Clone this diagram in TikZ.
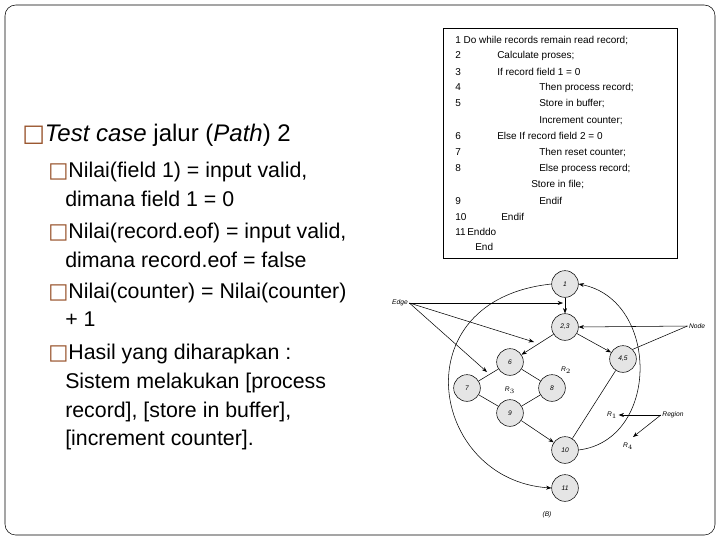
\documentclass[tikz,border=0pt]{standalone}
\usepackage{fontspec}
\setmainfont{Liberation Sans}
\newfontfamily\symfont{DejaVu Sans}
\usetikzlibrary{arrows.meta}
\definecolor{bulletbrown}{RGB}{150,80,40}
\newcommand{\bx}{{\symfont\textcolor{bulletbrown}{□}}}
\begin{document}
\begin{tikzpicture}[x=0.75pt,y=-0.75pt,
    txt/.style={anchor=base west,inner sep=0pt,font=\fontsize{16}{18}\selectfont},
    code/.style={anchor=base west,inner sep=0pt,font=\fontsize{7.5}{8}\selectfont},
    vtx/.style={circle,draw,fill=gray!20,minimum size=20pt,inner sep=0pt,font=\fontsize{5}{6}\selectfont\itshape},
    lbl/.style={inner sep=1pt,font=\fontsize{5}{6}\selectfont\itshape},
    arr/.style={-{Stealth[length=4pt,width=3pt]},thin}]
    \useasboundingbox (0,0) rectangle (720,540);
    \draw[rounded corners=8] (5,5) rectangle (715,535);

    % left text
    \node[txt,font=\fontsize{18}{20}\selectfont] (title) at (22,141) {\bx\textit{Test case} jalur (\textit{Path}) 2};
    \node[txt] (l1) at (48,177) {\bx Nilai(field 1) = input valid,};
    \node[txt] (l2) at (65,206) {dimana field 1 = 0};
    \node[txt] (l3) at (48,238) {\bx Nilai(record.eof) = input valid,};
    \node[txt] (l4) at (65,267) {dimana record.eof = false};
    \node[txt] (l5) at (48,298) {\bx Nilai(counter) = Nilai(counter)};
    \node[txt] (l6) at (65,326) {+ 1};
    \node[txt] (l7) at (48,359) {\bx Hasil yang diharapkan :};
    \node[txt] (l8) at (65,388) {Sistem melakukan [process};
    \node[txt] (l9) at (65,417) {record], [store in buffer],};
    \node[txt] (l10) at (65,445) {[increment counter].};

    % code box
    \draw (443,28) rectangle (677,258);
    \node[code] (c1) at (455,43) {1 Do while records remain read record;};
    \node[code] at (455,58) {2}; \node[code] at (497,58) {Calculate proses;};
    \node[code] at (455,75) {3}; \node[code] at (497,75) {If record field 1 = 0};
    \node[code] at (455,90) {4}; \node[code] at (539,90) {Then process record;};
    \node[code] at (455,106) {5}; \node[code] at (539,106) {Store in buffer;};
    \node[code] at (539,123) {Increment counter;};
    \node[code] at (455,139) {6}; \node[code] at (497,139) {Else If record field 2 = 0};
    \node[code] at (455,155) {7}; \node[code] at (539,155) {Then reset counter;};
    \node[code] at (455,171) {8}; \node[code] at (539,171) {Else process record;};
    \node[code] at (531,187) {Store in file;};
    \node[code] at (455,204) {9}; \node[code] at (539,204) {Endif};
    \node[code] at (455,220) {10}; \node[code] at (501,220) {Endif};
    \node[code] at (455,235) {11}; \node[code] at (467,235) {Enddo};
    \node[code] at (475,250) {End};

    % flow graph
    \node[vtx] (n1) at (565,284) {1};
    \node[vtx] (n23) at (565,327) {2,3};
    \node[vtx] (n6) at (510,362) {6};
    \node[vtx] (n45) at (623,359) {4,5};
    \node[vtx] (n7) at (467,388) {7};
    \node[vtx] (n8) at (552,388) {8};
    \node[vtx] (n9) at (510,413) {9};
    \node[vtx] (n10) at (565,450) {10};
    \node[vtx] (n11) at (565,488) {11};
    \draw[arr] (n1) -- (n23);
    \draw[arr] (n23) -- (n6);
    \draw[arr] (n23) -- (n45);
    \draw (n6) -- (n7);
    \draw (n6) -- (n8);
    \draw (n7) -- (n9);
    \draw (n8) -- (n9);
    \draw[arr] (n9) -- (n10);
    \draw (n45) -- (n10);
    \draw[arr] (n10.east) .. controls (660,440) and (660,300) .. (n1.east);
    \draw[arr] (n1.west) .. controls (400,300) and (430,480) .. (n11.west);

    \node[lbl] (edge) at (400,303) {Edge};
    \node[lbl] (nodelbl) at (697,326) {Node};
    \node[lbl] (region) at (673,415) {Region};
    \node[lbl] (r1) at (612,415) {R$_1$};
    \node[lbl] (r4) at (628,446) {R$_4$};
    \node[lbl] (r2) at (566,370) {R$_2$};
    \node[lbl] (r3) at (510,390) {R$_3$};
    \node[lbl] (b) at (547,515) {(B)};
    \coordinate (e1) at (563,303);
    \coordinate (e2) at (534,342);
    \coordinate (e3) at (487,372);
    \draw[arr] (edge.east) -- (e1);
    \draw[arr] (edge.east) -- (e2);
    \draw[arr] (edge.east) -- (e3);
    \draw[arr] (nodelbl.west) -- (n23.east);
    \draw (nodelbl.west) -- (n45.north east);
    \draw[arr] (region.west) -- (r1.east);
    \draw[arr] (region.west) -- (633,437);
\end{tikzpicture}
\end{document}
